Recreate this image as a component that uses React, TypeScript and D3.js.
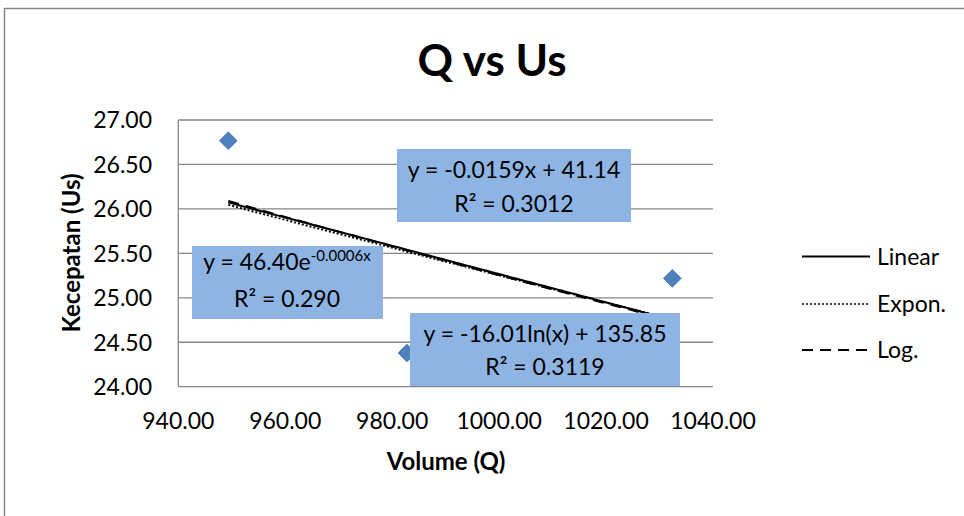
import React from "react";
import * as d3 from "d3";

// ---- data ----
const volumeQ = [949.35, 982.77, 1032.39];
const speedUs = [26.767, 24.379, 25.219];
const xTickValues = [940, 960, 980, 1000, 1020, 1040];
const yTickValues = [24, 24.5, 25, 25.5, 26, 26.5, 27];
const legendNames = ["Linear", "Expon.", "Log."];
const linearLabel = ["y = -0.0159x + 41.14", "R² = 0.3012"];
const expLabel = ["y = 46.40e", "-0.0006x", "R² = 0.290"];
const logLabel = ["y = -16.01ln(x) + 135.85", "R² = 0.3119"];

const W = 964;
const H = 516;
const FONT = "Lato, 'Open Sans', sans-serif";

function linFit(xs: number[], ys: number[]) {
  const mx = d3.mean(xs)!;
  const my = d3.mean(ys)!;
  let sxy = 0, sxx = 0;
  xs.forEach((x, i) => {
    sxy += (x - mx) * (ys[i] - my);
    sxx += (x - mx) * (x - mx);
  });
  const b = sxy / sxx;
  return { a: my - b * mx, b };
}

export default function App() {
  const x = d3.scaleLinear().domain([940, 1040]).range([178.3, 713]);
  const y = d3.scaleLinear().domain([24, 27]).range([386.7, 120]);

  const lin = linFit(volumeQ, speedUs);
  const ex = linFit(volumeQ, speedUs.map(Math.log));
  const lg = linFit(volumeQ.map(Math.log), speedUs);

  const xmin = d3.min(volumeQ)!;
  const xmax = d3.max(volumeQ)!;
  const samples = d3.range(0, 101).map((i) => xmin + ((xmax - xmin) * i) / 100);

  const line = d3
    .line<number[]>()
    .x((d) => x(d[0]))
    .y((d) => y(d[1]));

  const linPath = line(samples.map((v) => [v, lin.a + lin.b * v]))!;
  const expPath = line(samples.map((v) => [v, Math.exp(ex.a + ex.b * v)]))!;
  const logPath = line(samples.map((v) => [v, lg.a + lg.b * Math.log(v)]))!;

  const diamond = d3.symbol().type(d3.symbolDiamond2).size(200)()!;

  const gridColor = "#868686";
  const boxFill = "#8EB4E3";
  const fs = 23;

  const legendY = [256.5, 304, 350];
  const legendDash = [undefined, "2,2", "11,7"];

  return (
    <svg
      width={W}
      height={H}
      style={{ position: "absolute", left: 0, top: 0, background: "#fff" }}
      fontFamily={FONT}
    >
      <rect x={0} y={0} width={W} height={H} fill="#fff" />
      <rect x={4.5} y={8.5} width={1100} height={700} fill="#fff" stroke={gridColor} strokeWidth={1.5} />

      {/* title */}
      <text x={492} y={76} textAnchor="middle" fontSize={44} fontWeight="bold">
        Q vs Us
      </text>

      {/* gridlines */}
      {yTickValues.map((t) => (
        <line key={t} x1={x(940)} x2={x(1040)} y1={y(t)} y2={y(t)} stroke={gridColor} strokeWidth={1.3} />
      ))}
      <line x1={x(940)} x2={x(940)} y1={y(24)} y2={y(27)} stroke={gridColor} strokeWidth={1.3} />

      {/* y tick labels */}
      {yTickValues.map((t) => (
        <text key={t} x={152} y={y(t)} dy="0.36em" textAnchor="end" fontSize={fs}>
          {t.toFixed(2)}
        </text>
      ))}
      {/* x tick labels */}
      {xTickValues.map((t) => (
        <text key={t} x={x(t)} y={429} textAnchor="middle" fontSize={fs}>
          {t.toFixed(2)}
        </text>
      ))}

      {/* axis titles */}
      <text x={446} y={470} textAnchor="middle" fontSize={24} fontWeight="bold">
        Volume (Q)
      </text>
      <text
        transform={`translate(80,253) rotate(-90)`}
        textAnchor="middle"
        fontSize={24}
        fontWeight="bold"
      >
        Kecepatan (Us)
      </text>

      {/* points */}
      {volumeQ.map((v, i) => (
        <path
          key={i}
          d={diamond}
          transform={`translate(${x(v)},${y(speedUs[i])})`}
          fill="#4F81BD"
          stroke="#3F6FA8"
          strokeWidth={0.8}
        />
      ))}

      {/* trendlines */}
      <path d={linPath} fill="none" stroke="#000" strokeWidth={2} />
      <path d={expPath} fill="none" stroke="#000" strokeWidth={2} strokeDasharray="2,2" />
      <path d={logPath} fill="none" stroke="#000" strokeWidth={2} strokeDasharray="11,7" />

      {/* equation boxes */}
      <rect x={397} y={149} width={234} height={73} fill={boxFill} />
      <text x={514} y={178} textAnchor="middle" fontSize={fs}>{linearLabel[0]}</text>
      <text x={514} y={211.5} textAnchor="middle" fontSize={fs}>{linearLabel[1]}</text>

      <rect x={192} y={246} width={191} height={73} fill={boxFill} />
      <text x={287} y={270} textAnchor="middle" fontSize={fs}>
        {expLabel[0]}
        <tspan dy={-9} fontSize={15}>{expLabel[1]}</tspan>
      </text>
      <text x={287} y={306.5} textAnchor="middle" fontSize={fs}>{expLabel[2]}</text>

      <rect x={410} y={313} width={270} height={73} fill={boxFill} />
      <text x={545} y={341.5} textAnchor="middle" fontSize={fs}>{logLabel[0]}</text>
      <text x={545} y={375} textAnchor="middle" fontSize={fs}>{logLabel[1]}</text>

      {/* legend */}
      {legendNames.map((n, i) => (
        <g key={n}>
          <line
            x1={802}
            x2={870}
            y1={legendY[i]}
            y2={legendY[i]}
            stroke="#000"
            strokeWidth={i === 1 ? 1.5 : 2}
            strokeDasharray={legendDash[i]}
          />
          <text x={877} y={legendY[i]} dy="0.36em" fontSize={fs}>
            {n}
          </text>
        </g>
      ))}
    </svg>
  );
}
